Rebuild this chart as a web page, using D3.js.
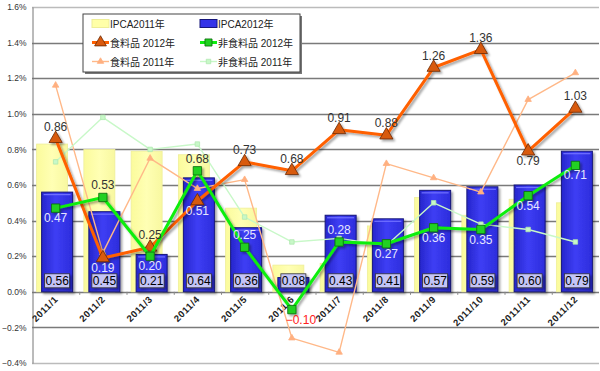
<!DOCTYPE html>
<html>
<head>
<meta charset="utf-8">
<script src="https://cdn.jsdelivr.net/npm/d3@7"></script>
<style>
body { margin: 0; background: #fff; }
text { font-family: "Liberation Sans", Arial, "Noto Sans CJK JP", sans-serif; }
</style>
</head>
<body>
<div id="chart"></div>
<script>
// IPCA 2011 vs 2012, monthly % change
var months = ["2011/1", "2011/2", "2011/3", "2011/4", "2011/5", "2011/6",
    "2011/7", "2011/8", "2011/9", "2011/10", "2011/11", "2011/12"];
var ipca2011 = [0.83, 0.80, 0.79, 0.77, 0.47, 0.15, 0.16, 0.37, 0.53, 0.43, 0.52, 0.50];
var ipca2012 = [0.56, 0.45, 0.21, 0.64, 0.36, 0.08, 0.43, 0.41, 0.57, 0.59, 0.60, 0.79];
var food2012 = [0.86, 0.19, 0.25, 0.51, 0.73, 0.68, 0.91, 0.88, 1.26, 1.36, 0.79, 1.03];
var nonFood2012 = [0.47, 0.53, 0.20, 0.68, 0.25, -0.10, 0.28, 0.27, 0.36, 0.35, 0.54, 0.71];
var food2011 = [1.16, 0.22, 0.75, 0.58, 0.63, -0.26, -0.34, 0.72, 0.64, 0.56, 1.08, 1.23];
var nonFood2011 = [0.73, 0.98, 0.80, 0.83, 0.42, 0.28, 0.30, 0.26, 0.50, 0.38, 0.35, 0.28];
var yTicks = [-0.4, -0.2, 0.0, 0.2, 0.4, 0.6, 0.8, 1.0, 1.2, 1.4, 1.6];
var seriesNames = ["IPCA2011年", "IPCA2012年", "食料品 2012年", "非食料品 2012年", "食料品 2011年", "非食料品 2011年"];

// label placement (above / below the marker)
var foodLabelPos = ["a", "b", "a", "b", "a", "a", "a", "a", "a", "a", "b", "a"];
var nonFoodLabelPos = ["b", "a", "b", "a", "a", "b", "a", "b", "b", "b", "b", "b"];

var width = 600, height = 371;
var plotLeft = 32, plotRight = 599, plotTop = 7, plotBottom = 363;

var svg = d3.select("#chart")
    .append("svg")
    .attr("width", width)
    .attr("height", height);

var defs = svg.append("defs");
var blueGrad = defs.append("linearGradient").attr("id", "blueGrad");
blueGrad.append("stop").attr("offset", "0%").attr("stop-color", "#2626cc");
blueGrad.append("stop").attr("offset", "45%").attr("stop-color", "#3e3ef4");
blueGrad.append("stop").attr("offset", "100%").attr("stop-color", "#2c2cdc");
var yellowGrad = defs.append("linearGradient").attr("id", "yellowGrad");
yellowGrad.append("stop").attr("offset", "0%").attr("stop-color", "#fbfb9c");
yellowGrad.append("stop").attr("offset", "50%").attr("stop-color", "#ffffb4");
yellowGrad.append("stop").attr("offset", "100%").attr("stop-color", "#f8f8a0");
var shadow = defs.append("filter").attr("id", "shadow")
    .attr("x", "-10%").attr("y", "-10%").attr("width", "130%").attr("height", "130%");
shadow.append("feDropShadow")
    .attr("dx", 2).attr("dy", 2).attr("stdDeviation", 1)
    .attr("flood-color", "#000").attr("flood-opacity", 0.35);

var x = d3.scaleBand()
    .domain(months)
    .range([plotLeft, plotRight]);

var y = d3.scaleLinear()
    .domain([-0.4, 1.6])
    .range([plotBottom, plotTop]);

function cx(i) {
    return x(months[i]) + x.bandwidth() / 2;
}

// grid
svg.append("g")
    .selectAll("line")
    .data(yTicks)
    .enter()
    .append("line")
    .attr("x1", plotLeft)
    .attr("x2", plotRight)
    .attr("y1", function (d) { return Math.round(y(d)) + 0.5; })
    .attr("y2", function (d) { return Math.round(y(d)) + 0.5; })
    .style("stroke", function (d, i) { return (i == 0 || i == yTicks.length - 1) ? "#bbb" : "#7a7a7a"; })
    .style("stroke-width", 1.3);

// y axis
var yAxis = d3.axisLeft(y)
    .tickValues(yTicks)
    .tickSize(0)
    .tickPadding(6)
    .tickFormat(function (d) { return d3.format(".1f")(d) + "%"; });
var gy = svg.append("g")
    .attr("transform", "translate(" + (plotLeft + 0.5) + ",0)")
    .call(yAxis);
gy.select(".domain").style("stroke", "#777");
gy.selectAll("text")
    .attr("font-size", 8.5)
    .attr("fill", "#333")
    .style("font-family", "'Liberation Sans', Arial, sans-serif");

// yellow bars (2011)
svg.append("g")
    .selectAll("rect")
    .data(ipca2011)
    .enter()
    .append("rect")
    .attr("x", function (d, i) { return cx(i) - 19; })
    .attr("y", function (d) { return y(d); })
    .attr("width", 31)
    .attr("height", function (d) { return y(0) - y(d); })
    .style("fill", "url(#yellowGrad)")
    .style("stroke", "#eeee98")
    .style("stroke-width", 0.8);

// blue bars (2012)
svg.append("g")
    .selectAll("rect")
    .data(ipca2012)
    .enter()
    .append("rect")
    .attr("x", function (d, i) { return cx(i) - 14; })
    .attr("y", function (d) { return y(d); })
    .attr("width", 31)
    .attr("height", function (d) { return y(0) - y(d); })
    .attr("filter", "url(#shadow)")
    .style("fill", "url(#blueGrad)")
    .style("stroke", "#16167a")
    .style("stroke-width", 1);
svg.append("g")
    .selectAll("line")
    .data(ipca2012)
    .enter()
    .append("line")
    .attr("x1", function (d, i) { return cx(i) - 12; })
    .attr("x2", function (d, i) { return cx(i) + 15; })
    .attr("y1", function (d) { return y(d) + 2.5; })
    .attr("y2", function (d) { return y(d) + 2.5; })
    .style("stroke", "#7070ff")
    .style("stroke-width", 1.2);

// x tick marks
svg.append("g")
    .selectAll("line")
    .data(months.slice(1))
    .enter()
    .append("line")
    .attr("x1", function (d) { return x(d) + 0.5; })
    .attr("x2", function (d) { return x(d) + 0.5; })
    .attr("y1", y(0))
    .attr("y2", y(0) + 3)
    .style("stroke", "#888");

// bar value boxes
var boxes = svg.append("g")
    .selectAll("g")
    .data(ipca2012)
    .enter()
    .append("g")
    .attr("transform", function (d, i) { return "translate(" + (cx(i) + 1.5) + "," + (y(0) - 11) + ")"; });
boxes.append("rect")
    .attr("x", -12.5)
    .attr("y", -7)
    .attr("width", 25)
    .attr("height", 14)
    .attr("filter", "url(#shadow)")
    .style("fill", "#c4c4f6")
    .style("stroke", "#333")
    .style("stroke-width", 0.8);
boxes.append("text")
    .attr("text-anchor", "middle")
    .attr("y", 4.5)
    .attr("font-size", 12)
    .attr("fill", "#000")
    .text(function (d) { return d3.format(".2f")(d); });

// x labels
svg.append("g")
    .selectAll("text")
    .data(months)
    .enter()
    .append("text")
    .attr("transform", function (d, i) { return "translate(" + (cx(i) + 3) + "," + (y(0) + 8) + ") rotate(-45)"; })
    .attr("text-anchor", "end")
    .attr("font-size", 9.5)
    .attr("font-weight", "bold")
    .attr("letter-spacing", 0.6)
    .attr("fill", "#222")
    .text(function (d) { return d; });

var line = d3.line()
    .x(function (d, i) { return cx(i); })
    .y(function (d) { return y(d); });

function drawSeries(values, color, lw, symbol, size, fill, stroke, useShadow) {
    var g = svg.append("g");
    if (useShadow) g.attr("filter", "url(#shadow)");
    g.append("path")
        .datum(values)
        .attr("d", line)
        .style("fill", "none")
        .style("stroke", color)
        .style("stroke-width", lw)
        .style("stroke-linejoin", "round");
    g.selectAll(".m")
        .data(values)
        .enter()
        .append("path")
        .attr("class", "m")
        .attr("transform", function (d, i) { return "translate(" + cx(i) + "," + y(d) + ")"; })
        .attr("d", d3.symbol().type(symbol).size(size))
        .style("fill", fill)
        .style("stroke", stroke)
        .style("stroke-width", 0.8);
}

drawSeries(food2011, "#ffb888", 1.4, d3.symbolTriangle, 18, "#ffb080", "#ffb080", false);
drawSeries(nonFood2011, "#c8f8c8", 1.4, d3.symbolSquare, 20, "#c8f8c8", "#b0e8b0", false);
drawSeries(food2012, "#ff6000", 3, d3.symbolTriangle, 75, "#d85a10", "#6a2800", true);
drawSeries(nonFood2012, "#10ee10", 3, d3.symbolSquare, 70, "#20d020", "#0a6a0a", true);

function labelY(d, p) {
    return p == "a" ? y(d) - 8 : y(d) + 14;
}

function drawLabels(values, pos) {
    svg.append("g")
        .selectAll("text")
        .data(values)
        .enter()
        .append("text")
        .attr("x", function (d, i) { return d < 0 ? cx(i) + 9 : cx(i); })
        .attr("y", function (d, i) { return labelY(d, pos[i]); })
        .attr("text-anchor", "middle")
        .attr("font-size", 12)
        .attr("fill", function (d, i) {
            if (d < 0) return "#ff2020";
            return (labelY(d, pos[i]) - 9 > y(ipca2012[i])) ? "#e6e6ff" : "#333";
        })
        .text(function (d) { return d3.format(".2f")(d); });
}
drawLabels(food2012, foodLabelPos);
drawLabels(nonFood2012, nonFoodLabelPos);

// legend
var lg = svg.append("g");
lg.append("rect")
    .attr("x", 85).attr("y", 16).attr("width", 217).attr("height", 58)
    .style("fill", "#777");
lg.append("rect")
    .attr("x", 83).attr("y", 14).attr("width", 217).attr("height", 58)
    .style("fill", "#fff")
    .style("stroke", "#444")
    .style("stroke-width", 1);

var legendItems = [
    { col: 0, row: 0, kind: "bar", fill: "#ffffa8", stroke: "#eeee98" },
    { col: 1, row: 0, kind: "bar", fill: "#3333e8", stroke: "#16167a" },
    { col: 0, row: 1, kind: "line", color: "#ff6000", lw: 3, symbol: d3.symbolTriangle, size: 60, fill: "#d85a10", stroke: "#6a2800" },
    { col: 1, row: 1, kind: "line", color: "#10ee10", lw: 3, symbol: d3.symbolSquare, size: 50, fill: "#20d020", stroke: "#0a6a0a" },
    { col: 0, row: 2, kind: "line", color: "#ffb888", lw: 1.4, symbol: d3.symbolTriangle, size: 18, fill: "#ffb080", stroke: "#ffb080" },
    { col: 1, row: 2, kind: "line", color: "#c8f8c8", lw: 1.4, symbol: d3.symbolSquare, size: 20, fill: "#c8f8c8", stroke: "#b0e8b0" }
];

legendItems.forEach(function (e, k) {
    var lx = e.col == 0 ? 92 : 200;
    var ly = 23.5 + e.row * 19;
    if (e.kind == "bar") {
        lg.append("rect")
            .attr("x", lx).attr("y", ly - 4).attr("width", 17).attr("height", 8)
            .style("fill", e.fill)
            .style("stroke", e.stroke);
    } else {
        lg.append("line")
            .attr("x1", lx).attr("x2", lx + 17)
            .attr("y1", ly).attr("y2", ly)
            .style("stroke", e.color)
            .style("stroke-width", e.lw);
        lg.append("path")
            .attr("transform", "translate(" + (lx + 8.5) + "," + ly + ")")
            .attr("d", d3.symbol().type(e.symbol).size(e.size))
            .style("fill", e.fill)
            .style("stroke", e.stroke)
            .style("stroke-width", 0.8);
    }
    lg.append("text")
        .attr("x", lx + 18)
        .attr("y", ly + 4)
        .attr("font-size", 10)
        .attr("fill", "#222")
        .text(seriesNames[k]);
});
</script>
</body>
</html>
